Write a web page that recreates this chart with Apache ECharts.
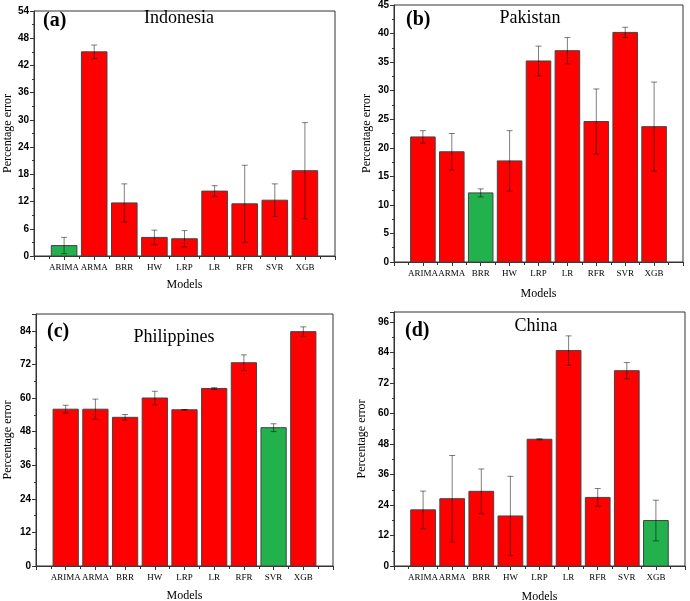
<!DOCTYPE html>
<html>
<head>
<meta charset="utf-8">
<script src="https://cdn.jsdelivr.net/npm/echarts@6/dist/echarts.min.js"></script>
<style>
html,body{margin:0;padding:0;background:#fff;}
#chart{width:690px;height:601px;}
</style>
</head>
<body>
<div id="chart"></div>
<script>
// ---- data ----
const categories = ['ARIMA', 'ARMA', 'BRR', 'HW', 'LRP', 'LR', 'RFR', 'SVR', 'XGB'];

const indonesiaValues = [2.3, 45.0, 11.7, 4.1, 3.8, 14.3, 11.5, 12.3, 18.8];
const indonesiaErrors = [1.8, 1.5, 4.2, 1.6, 1.8, 1.2, 8.5, 3.6, 10.6];

const pakistanValues = [21.9, 19.3, 12.1, 17.7, 35.2, 37.0, 24.6, 40.2, 23.7];
const pakistanErrors = [1.1, 3.2, 0.7, 5.3, 2.6, 2.3, 5.7, 0.9, 7.8];

const philippinesValues = [56.0, 56.0, 53.1, 60.0, 55.8, 63.4, 72.6, 49.4, 83.7];
const philippinesErrors = [1.4, 3.6, 1.0, 2.4, 0.1, 0.3, 2.8, 1.4, 1.7];

const chinaValues = [22.1, 26.5, 29.4, 19.7, 49.9, 84.8, 27.0, 76.9, 17.9];
const chinaErrors = [7.4, 17.0, 8.8, 15.6, 0.2, 5.8, 3.5, 3.2, 8.0];

const yTicksA = {max: 54, interval: 6};
const yTicksB = {max: 45, interval: 5};
const yTicksC = {max: 90, interval: 12};
const yTicksD = {max: 100, interval: 12};

// ---- layout ----
const panels = [
  {label: '(a)', name: 'Indonesia', values: indonesiaValues, errors: indonesiaErrors, ticks: yTicksA,
   grid: {left: 34, top: 11, width: 301, height: 245}, yGap: 20, xGap: 23,
   labelPos: [43, 21], namePos: [179, 18]},
  {label: '(b)', name: 'Pakistan', values: pakistanValues, errors: pakistanErrors, ticks: yTicksB,
   grid: {left: 394, top: 5, width: 289, height: 257}, yGap: 21, xGap: 26,
   labelPos: [406, 20], namePos: [530, 18]},
  {label: '(c)', name: 'Philippines', values: philippinesValues, errors: philippinesErrors, ticks: yTicksC,
   grid: {left: 36, top: 314, width: 297, height: 252}, yGap: 22, xGap: 24,
   labelPos: [47, 332], namePos: [174, 337]},
  {label: '(d)', name: 'China', values: chinaValues, errors: chinaErrors, ticks: yTicksD,
   grid: {left: 394, top: 312, width: 291, height: 254}, yGap: 26, xGap: 25,
   labelPos: [405, 331], namePos: [536, 326]}
];

const RED = '#ff0000';
const GREEN = '#22b14c';

const grids = [], xAxes = [], yAxes = [], series = [], graphics = [];

panels.forEach((p, i) => {
  grids.push(Object.assign({show: true, borderColor: '#333', borderWidth: 1, backgroundColor: 'transparent',
    containLabel: false, outerBoundsMode: 'none'}, p.grid));
  xAxes.push({
    type: 'value', gridIndex: i, min: 0, max: 10, interval: 1,
    name: 'Models', nameLocation: 'middle', nameGap: p.xGap,
    nameTextStyle: {fontFamily: 'Liberation Serif', fontSize: 12, color: '#000'},
    axisLine: {show: true, lineStyle: {color: '#333', width: 1}},
    axisTick: {show: true, inside: false, length: 4, lineStyle: {color: '#333'}},
    minorTick: {show: true, splitNumber: 2, length: 3, lineStyle: {color: '#333'}},
    splitLine: {show: false},
    axisLabel: {
      margin: 7, fontFamily: 'Liberation Serif', fontSize: 9, color: '#000',
      showMinLabel: true, showMaxLabel: true,
      formatter: v => categories[v - 1] || ''
    }
  });
  yAxes.push({
    type: 'value', gridIndex: i, min: 0, max: p.ticks.max, interval: p.ticks.interval,
    name: 'Percentage error', nameLocation: 'middle', nameGap: p.yGap,
    nameTextStyle: {fontFamily: 'Liberation Serif', fontSize: 12, color: '#000'},
    axisLine: {show: true, lineStyle: {color: '#333', width: 1}},
    axisTick: {show: true, inside: false, length: 4, lineStyle: {color: '#333'}},
    minorTick: {show: true, splitNumber: 2, length: 2, lineStyle: {color: '#333'}},
    splitLine: {show: false},
    axisLabel: {margin: 5, fontFamily: 'Liberation Sans', fontSize: 10, fontWeight: 'bold', color: '#000',
      showMaxLabel: (p.ticks.max % p.ticks.interval === 0)}
  });

  const minVal = Math.min.apply(null, p.values);
  const barData = p.values.map((v, k) => [k + 1, v]);
  const errData = p.values.map((v, k) => [k + 1, v, p.errors[k]]);

  series.push({
    type: 'custom', xAxisIndex: i, yAxisIndex: i, data: barData, z: 2,
    renderItem: (params, api) => {
      const x = api.value(0), y = api.value(1);
      const p0 = api.coord([x, 0]);
      const p1 = api.coord([x, y]);
      const w = api.size([1, 0])[0] * 0.85;
      return {
        type: 'rect',
        shape: {x: p0[0] - w / 2, y: p1[1], width: w, height: p0[1] - p1[1]},
        style: {fill: y === minVal ? GREEN : RED, stroke: '#444', lineWidth: 1}
      };
    }
  });
  series.push({
    type: 'custom', xAxisIndex: i, yAxisIndex: i, data: errData, z: 3,
    renderItem: (params, api) => {
      const x = api.value(0), y = api.value(1), e = api.value(2);
      const top = api.coord([x, y + e]);
      const bot = api.coord([x, y - e]);
      const cw = 3;
      const st = {stroke: 'rgba(0,0,0,0.5)', lineWidth: 1};
      return {
        type: 'group',
        children: [
          {type: 'line', shape: {x1: top[0], y1: top[1], x2: bot[0], y2: bot[1]}, style: st},
          {type: 'line', shape: {x1: top[0] - cw, y1: top[1], x2: top[0] + cw, y2: top[1]}, style: st},
          {type: 'line', shape: {x1: bot[0] - cw, y1: bot[1], x2: bot[0] + cw, y2: bot[1]}, style: st}
        ]
      };
    }
  });

  graphics.push({
    type: 'text', x: p.labelPos[0], y: p.labelPos[1],
    style: {text: p.label, font: 'bold 20px "Liberation Serif"', fill: '#000', align: 'left', verticalAlign: 'middle'}
  });
  graphics.push({
    type: 'text', x: p.namePos[0], y: p.namePos[1],
    style: {text: p.name, font: '18px "Liberation Serif"', fill: '#000', align: 'center', verticalAlign: 'middle'}
  });
});

const chart = echarts.init(document.getElementById('chart'), null, {renderer: 'canvas'});
chart.setOption({
  animation: false,
  backgroundColor: '#fff',
  grid: grids,
  xAxis: xAxes,
  yAxis: yAxes,
  series: series,
  graphic: graphics
});
</script>
</body>
</html>
